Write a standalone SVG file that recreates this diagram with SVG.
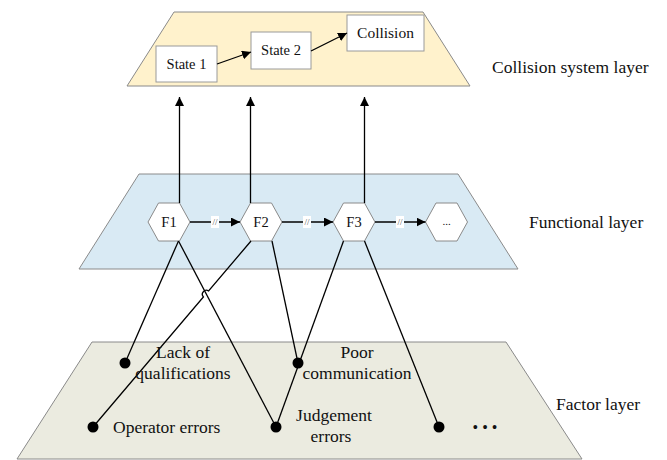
<svg xmlns="http://www.w3.org/2000/svg" width="667" height="460" viewBox="0 0 667 460">
<defs>
<marker id="ah" viewBox="0 0 10 10" refX="10" refY="5" markerWidth="9" markerHeight="9" markerUnits="userSpaceOnUse" orient="auto">
<path d="M0,0 L10,5 L0,10 z" fill="#000"/>
</marker>
<style>
text{font-family:"Liberation Serif","Times New Roman",serif;fill:#111}
.layer{stroke:#8a8a8a;stroke-width:1}
.box{fill:#fff;stroke:#9a9a9a;stroke-width:1}
.hex{fill:#fff;stroke:#8a8a8a;stroke-width:1}
.ln{fill:none;stroke:#000;stroke-width:1.3}
.arr{fill:none;stroke:#000;stroke-width:1.3;marker-end:url(#ah)}
.dot{fill:#000}
.lbl{font-size:17.5px}
.fl{font-size:17.5px}
.hl{font-size:14.5px;text-anchor:middle}
.sl{font-size:9px;text-anchor:middle;fill:#555}
</style>
</defs>
<rect width="667" height="460" fill="#fff"/>
<g id="layers">
<polygon class="layer" points="174,12 423,12 470,86 127,86" fill="#fff2cc"/>
<polygon class="layer" points="139,174 458,174 518,269 79,269" fill="#d9eaf4"/>
<polygon class="layer" points="92,342 506,342 582,459 17,459" fill="#ebebe0"/>
<text class="lbl" x="492" y="73">Collision system layer</text>
<text class="lbl" x="529" y="228">Functional layer</text>
<text class="lbl" x="556" y="410">Factor layer</text>
</g>
<g id="state1"><rect class="box" x="156" y="46" width="61" height="36"/><text class="hl" x="186.5" y="69">State 1</text></g>
<g id="state2"><rect class="box" x="251" y="32" width="60" height="37"/><text class="hl" x="281" y="55">State 2</text></g>
<g id="collision"><rect class="box" x="347" y="15" width="77" height="36"/><text class="hl" x="385.5" y="38" style="font-size:15.5px">Collision</text></g>
<g id="F1"><polygon class="hex" points="158.5,203 179.5,203 190,222 179.5,241 158.5,241 148,222"/><text class="hl" x="169" y="227">F1</text></g>
<g id="F2"><polygon class="hex" points="250.5,203 271.5,203 282,222 271.5,241 250.5,241 240,222"/><text class="hl" x="261" y="227">F2</text></g>
<g id="F3"><polygon class="hex" points="343.5,203 364.5,203 375,222 364.5,241 343.5,241 333,222"/><text class="hl" x="354" y="227">F3</text></g>
<g id="Fn"><polygon class="hex" points="436,203 457,203 467.5,222 457,241 436,241 425.5,222"/><text class="hl" x="446.5" y="225" style="font-size:11px">...</text></g>
<g id="connectors">
<line class="arr" x1="217" y1="64" x2="251" y2="52"/>
<line class="arr" x1="311" y1="51" x2="347" y2="33"/>
<line class="arr" x1="179.5" y1="203" x2="179.5" y2="97"/>
<line class="arr" x1="250.5" y1="203" x2="250.5" y2="97"/>
<line class="arr" x1="364.5" y1="203" x2="364.5" y2="97"/>
<line class="arr" x1="190" y1="222" x2="240" y2="222"/>
<line class="arr" x1="282" y1="222" x2="333" y2="222"/>
<line class="arr" x1="375" y1="222" x2="425.5" y2="222"/>
<rect x="211" y="216" width="8" height="12" fill="#fff"/><text class="sl" x="215" y="225">//</text>
<rect x="303" y="216" width="8" height="12" fill="#fff"/><text class="sl" x="307" y="225">//</text>
<rect x="396" y="216" width="8" height="12" fill="#fff"/><text class="sl" x="400" y="225">//</text>
<line class="ln" x1="178.5" y1="241" x2="125" y2="363"/>
<line class="ln" x1="178.5" y1="241" x2="276" y2="427"/>
<path class="ln" d="M251,241 L208.6,291 A4,4 0 0 0 203.4,297 L93,427"/>
<line class="ln" x1="272" y1="241" x2="298" y2="363"/>
<line class="ln" x1="343.5" y1="241" x2="276" y2="427"/>
<line class="ln" x1="364.5" y1="241" x2="439" y2="427"/>
</g>
<g id="f-lack"><circle class="dot" cx="125" cy="363" r="5.5"/><text class="fl" x="183" y="358" text-anchor="middle">Lack of</text><text class="fl" x="183" y="379" text-anchor="middle">qualifications</text></g>
<g id="f-poor"><circle class="dot" cx="298" cy="363" r="5.5"/><text class="fl" x="357" y="358" text-anchor="middle">Poor</text><text class="fl" x="357" y="379" text-anchor="middle">communication</text></g>
<g id="f-operator"><circle class="dot" cx="93" cy="427" r="5.5"/><text class="fl" x="113" y="433">Operator errors</text></g>
<g id="f-judgement"><circle class="dot" cx="276" cy="427" r="5.5"/><text class="fl" x="334" y="421" text-anchor="middle">Judgement</text><text class="fl" x="331" y="442" text-anchor="middle">errors</text></g>
<g id="f-more"><circle class="dot" cx="439" cy="427" r="5.5"/><text x="485" y="433" text-anchor="middle" style="font-size:16px">• • •</text></g>
</svg>
